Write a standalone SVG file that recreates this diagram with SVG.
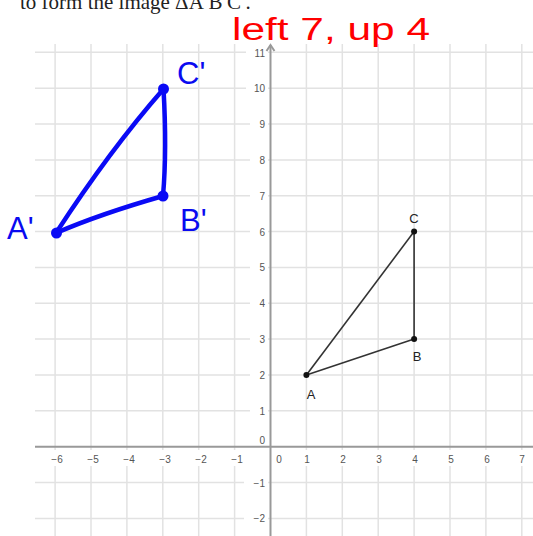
<svg xmlns="http://www.w3.org/2000/svg" width="533" height="536" viewBox="0 0 533 536">
<style>
.grid line{stroke:#e2e2e2;stroke-width:1.5}
.axis{stroke:#999;stroke-width:2;fill:none}
.tick{font-family:"Liberation Sans",Arial,sans-serif;font-size:10px;fill:#555}
.lbl{font-family:"Liberation Sans",Arial,sans-serif;font-size:13px;fill:#222;text-anchor:middle}
.hand{font-family:"Liberation Sans",Arial,sans-serif;fill:#0a0af0}
.seg{stroke:#333;stroke-width:1.6;fill:none}
.bseg{stroke:#0a0af5;stroke-width:4.5;fill:none;stroke-linecap:round;stroke-linejoin:round}
</style>
<rect width="533" height="536" fill="#fff"/>
<text x="20" y="9" font-family="Liberation Serif,Times New Roman,serif" font-size="21" fill="#222">to form the image ΔA′B′C′.</text>
<g class="grid">
<line x1="55.1" y1="44" x2="55.1" y2="536"/>
<line x1="91" y1="44" x2="91" y2="536"/>
<line x1="126.9" y1="44" x2="126.9" y2="536"/>
<line x1="162.8" y1="44" x2="162.8" y2="536"/>
<line x1="198.7" y1="44" x2="198.7" y2="536"/>
<line x1="234.6" y1="44" x2="234.6" y2="536"/>
<line x1="306.4" y1="44" x2="306.4" y2="536"/>
<line x1="342.3" y1="44" x2="342.3" y2="536"/>
<line x1="378.2" y1="44" x2="378.2" y2="536"/>
<line x1="414.1" y1="44" x2="414.1" y2="536"/>
<line x1="450" y1="44" x2="450" y2="536"/>
<line x1="485.9" y1="44" x2="485.9" y2="536"/>
<line x1="521.8" y1="44" x2="521.8" y2="536"/>
<line x1="35" y1="52.3" x2="533" y2="52.3"/>
<line x1="35" y1="88.2" x2="533" y2="88.2"/>
<line x1="35" y1="124" x2="533" y2="124"/>
<line x1="35" y1="159.9" x2="533" y2="159.9"/>
<line x1="35" y1="195.7" x2="533" y2="195.7"/>
<line x1="35" y1="231.6" x2="533" y2="231.6"/>
<line x1="35" y1="267.4" x2="533" y2="267.4"/>
<line x1="35" y1="303.3" x2="533" y2="303.3"/>
<line x1="35" y1="339.1" x2="533" y2="339.1"/>
<line x1="35" y1="375" x2="533" y2="375"/>
<line x1="35" y1="410.8" x2="533" y2="410.8"/>
<line x1="35" y1="482.5" x2="533" y2="482.5"/>
<line x1="35" y1="518.4" x2="533" y2="518.4"/>
</g>
<g id="tick-bg" fill="#fff">
<rect x="246" y="47" width="22" height="12"/>
<rect x="246" y="81" width="22" height="14"/>
<rect x="250" y="117" width="18" height="14"/>
<rect x="250" y="153" width="18" height="14"/>
<rect x="250" y="189" width="18" height="14"/>
<rect x="250" y="225" width="18" height="14"/>
<rect x="250" y="260" width="18" height="14"/>
<rect x="250" y="296" width="18" height="14"/>
<rect x="250" y="332" width="18" height="14"/>
<rect x="250" y="368" width="18" height="14"/>
<rect x="250" y="404" width="18" height="14"/>
<rect x="250" y="434" width="18" height="12"/>
<rect x="244" y="476" width="24" height="14"/>
<rect x="244" y="512" width="24" height="14"/>
<rect x="35" y="450" width="498" height="16"/>
</g>
<g id="axes">
<line class="axis" x1="35" y1="446.7" x2="533" y2="446.7"/>
<line class="axis" x1="270.5" y1="536" x2="270.5" y2="45"/>
<path d="M266.5 51 L270.5 45 L274.5 51" class="axis" stroke-width="1.5"/>
</g>
<g id="y-ticks" class="tick" text-anchor="end">
<text x="265" y="57">11</text>
<text x="265" y="92">10</text>
<text x="265" y="128">9</text>
<text x="265" y="163.5">8</text>
<text x="265" y="199.5">7</text>
<text x="265" y="235.5">6</text>
<text x="265" y="271">5</text>
<text x="265" y="307">4</text>
<text x="265" y="343">3</text>
<text x="265" y="379">2</text>
<text x="265" y="414.5">1</text>
<text x="265" y="444">0</text>
<text x="265" y="486.5">−1</text>
<text x="265" y="522">−2</text>
</g>
<g id="x-ticks" class="tick" text-anchor="middle">
<text x="57" y="462.5">−6</text>
<text x="93" y="462.5">−5</text>
<text x="129" y="462.5">−4</text>
<text x="165" y="462.5">−3</text>
<text x="201" y="462.5">−2</text>
<text x="237" y="462.5">−1</text>
<text x="279" y="462.5">0</text>
<text x="307" y="462.5">1</text>
<text x="343" y="462.5">2</text>
<text x="379" y="462.5">3</text>
<text x="415" y="462.5">4</text>
<text x="451" y="462.5">5</text>
<text x="487" y="462.5">6</text>
<text x="522" y="462.5">7</text>
</g>
<g id="connectors">
<line class="seg" x1="306.4" y1="375" x2="414.1" y2="339.1"/>
<line class="seg" x1="414.1" y1="339.1" x2="414.1" y2="231.6"/>
<line class="seg" x1="414.1" y1="231.6" x2="306.4" y2="375"/>
<path class="bseg" d="M56 233 Q100 214 163 196"/>
<path class="bseg" d="M163 196 Q167 150 163.5 89"/>
<path class="bseg" d="M163.5 89 Q110 150 56 233"/>
</g>
<g id="node-A"><circle cx="306.4" cy="375" r="3" fill="#111"/><text class="lbl" x="311" y="399">A</text></g>
<g id="node-B"><circle cx="414.1" cy="339.1" r="3" fill="#111"/><text class="lbl" x="417" y="361">B</text></g>
<g id="node-C"><circle cx="414.1" cy="231.6" r="3" fill="#111"/><text class="lbl" x="414" y="223">C</text></g>
<g id="node-A2"><circle cx="56.5" cy="233" r="5.5" fill="#0a0af5"/><text class="hand" x="7" y="239" font-size="31">A'</text></g>
<g id="node-B2"><circle cx="163" cy="196" r="5.5" fill="#0a0af5"/><text class="hand" x="180" y="231" font-size="31">B'</text></g>
<g id="node-C2"><circle cx="163.5" cy="89" r="5.5" fill="#0a0af5"/><text class="hand" x="177" y="84" font-size="31">C'</text></g>
<text id="note" x="232" y="40" font-family="Liberation Sans,Arial,sans-serif" font-size="31" fill="#f00" textLength="198" lengthAdjust="spacingAndGlyphs">left 7, up 4</text>
</svg>
